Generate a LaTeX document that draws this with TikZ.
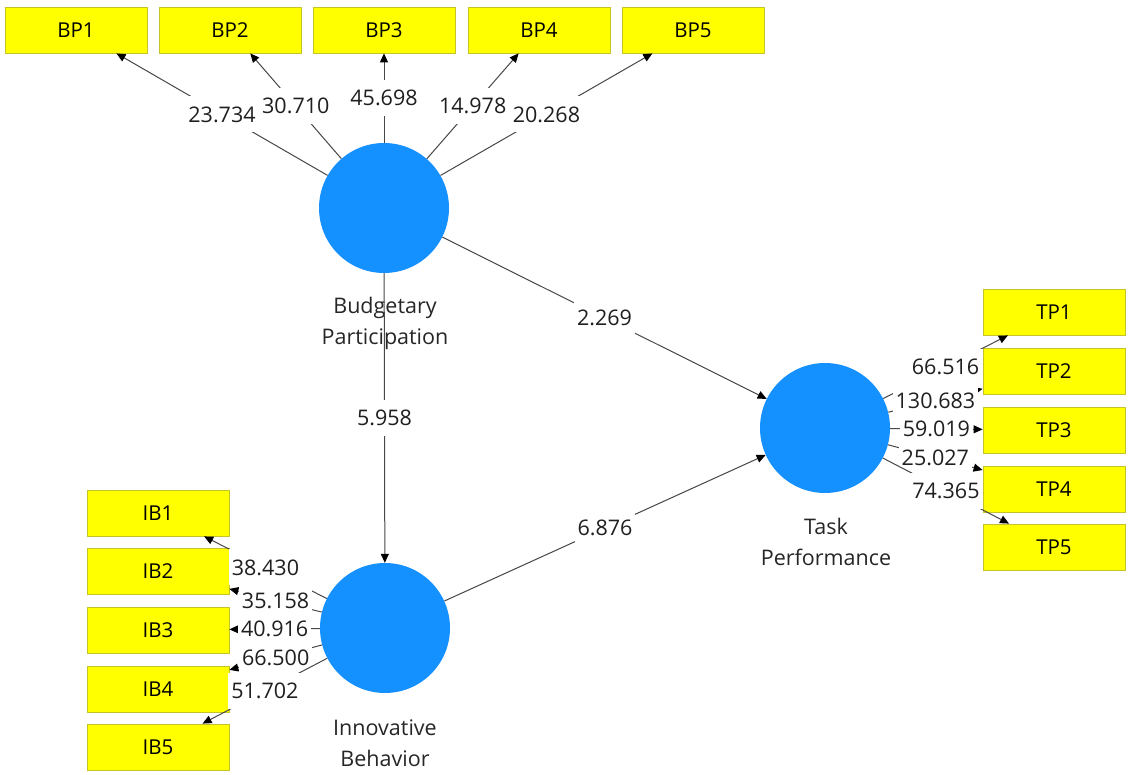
\documentclass[tikz,border=0pt]{standalone}
\usepackage{fontspec}
\setmainfont{Open Sans}
\usetikzlibrary{arrows.meta}
\definecolor{lvblue}{RGB}{20,144,255}
\definecolor{boxyellow}{RGB}{255,255,0}
\definecolor{boxedge}{RGB}{196,196,40}
\begin{document}
\begin{tikzpicture}[x=1pt,y=-1pt,
  indbox/.style={draw=boxedge, fill=boxyellow, minimum width=142pt, minimum height=46pt, inner sep=0pt, font=\fontsize{20.5}{24}\selectfont, line width=0.8pt},
  latent/.style={circle, fill=lvblue, minimum size=130pt, inner sep=0pt},
  lvname/.style={align=center, font=\fontsize{21.5}{31}\selectfont, text=black!85},
  conn/.style={draw=black!72, line width=1pt, -{Triangle[length=9pt,width=8pt,color=black]}},
  wlab/.style={fill=white, inner xsep=3pt, inner ysep=0pt, minimum height=36pt, font=\fontsize{21.5}{24}\selectfont, text=black!88}
]
\useasboundingbox (0,0) rectangle (1128,775);
% indicator boxes
\node[indbox] (BP1) at (76,30) {BP1};
\node[indbox] (BP2) at (230,30) {BP2};
\node[indbox] (BP3) at (384,30) {BP3};
\node[indbox] (BP4) at (539,30) {BP4};
\node[indbox] (BP5) at (693,30) {BP5};
\node[indbox] (IB1) at (158,513) {IB1};
\node[indbox] (IB2) at (158,571) {IB2};
\node[indbox] (IB3) at (158,630) {IB3};
\node[indbox] (IB4) at (158,689) {IB4};
\node[indbox] (IB5) at (158,747) {IB5};
\node[indbox] (TP1) at (1054,312) {TP1};
\node[indbox] (TP2) at (1054,371) {TP2};
\node[indbox] (TP3) at (1054,430) {TP3};
\node[indbox] (TP4) at (1054,489) {TP4};
\node[indbox] (TP5) at (1054,547) {TP5};
% latent variables
\node[latent] (BP) at (384,208) {};
\node[latent] (TP) at (825,428) {};
\node[latent] (IB) at (385,628) {};
\node[lvname] (BPn) at (385,323) {Budgetary\\Participation};
\node[lvname] (TPn) at (826,542) {Task\\Performance};
\node[lvname] (IBn) at (385,743) {Innovative\\Behavior};
% outer loadings
\draw[conn] (BP) -- (BP1) node[midway, wlab] {23.734};
\draw[conn] (BP) -- (BP2) node[midway, wlab] {30.710};
\draw[conn] (BP) -- (BP3) node[midway, wlab] {45.698};
\draw[conn] (BP) -- (BP4) node[midway, wlab] {14.978};
\draw[conn] (BP) -- (BP5) node[midway, wlab] {20.268};
\draw[conn] (IB) -- (IB1) node[midway, wlab] {38.430};
\draw[conn] (IB) -- (IB2) node[midway, wlab] {35.158};
\draw[conn] (IB) -- (IB3) node[midway, wlab] {40.916};
\draw[conn] (IB) -- (IB4) node[midway, wlab] {66.500};
\draw[conn] (IB) -- (IB5) node[midway, wlab] {51.702};
\draw[conn] (TP) -- (TP1) node[midway, wlab] {66.516};
\draw[conn] (TP) -- (TP2) node[midway, wlab] {130.683};
\draw[conn] (TP) -- (TP3) node[midway, wlab] {59.019};
\draw[conn] (TP) -- (TP4) node[midway, wlab] {25.027};
\draw[conn] (TP) -- (TP5) node[midway, wlab] {74.365};
% structural paths
\draw[conn] (BP) -- (TP) node[midway, wlab] {2.269};
\draw[conn] (BP) -- (IB) node[midway, wlab] {5.958};
\draw[conn] (IB) -- (TP) node[midway, wlab] {6.876};
\end{tikzpicture}
\end{document}
